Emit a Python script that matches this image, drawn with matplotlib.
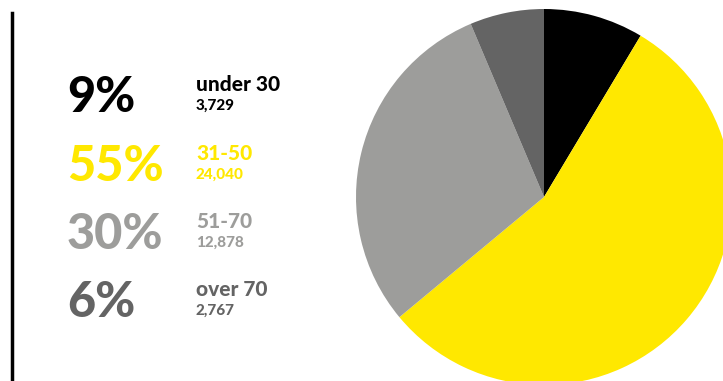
import matplotlib.pyplot as plt

labels = ["under 30", "31-50", "51-70", "over 70"]
counts = [3729, 24040, 12878, 2767]
percents = ["9%", "55%", "30%", "6%"]
count_labels = ["3,729", "24,040", "12,878", "2,767"]
colors = ["#000000", "#FFE800", "#9D9D9B", "#646464"]

W, H = 723, 381
fig = plt.figure(figsize=(W / 100, H / 100), dpi=100)
plt.rcParams['font.family'] = ['Lato', 'DejaVu Sans']

# pie, centre (544,197) px from top, radius 188 px
cx, cy, r = 544, 197, 188
ax = fig.add_axes([(cx - r) / W, (H - cy - r) / H, 2 * r / W, 2 * r / H])
ax.pie(counts, colors=colors, startangle=90, counterclock=False, radius=1,
       wedgeprops=dict(linewidth=0))
ax.set_xlim(-1, 1)
ax.set_ylim(-1, 1)
ax.set_aspect('equal')
ax.axis('off')

# left vertical rule
fig.add_artist(plt.Line2D([12 / W, 12 / W], [0, 1 - 13 / H], color='black',
                          linewidth=2.5, transform=fig.transFigure))

# legend-like text block
big_base = [112, 181, 249, 317]
for i in range(len(labels)):
    yb = big_base[i]
    fig.text(67 / W, 1 - yb / H, percents[i], color=colors[i], fontsize=35,
             fontweight=900, va='baseline', ha='left')
    fig.text(196 / W, 1 - (yb - 21) / H, labels[i], color=colors[i], fontsize=15,
             fontweight=900, va='baseline', ha='left')
    fig.text(196 / W, 1 - (yb - 2) / H, count_labels[i], color=colors[i], fontsize=11,
             fontweight=900, va='baseline', ha='left')

fig.savefig("out.png", dpi=100)
